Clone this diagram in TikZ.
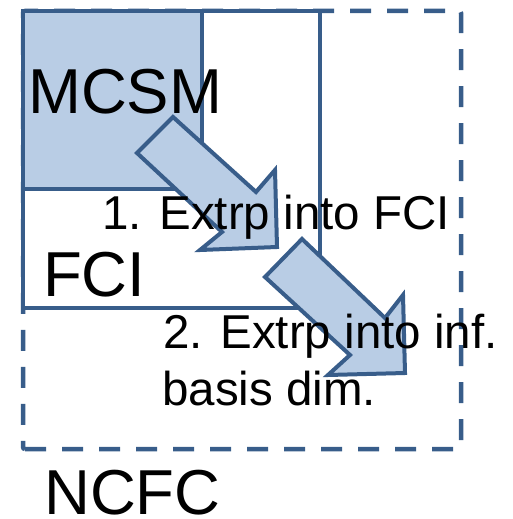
\documentclass[tikz,border=0pt]{standalone}
\usepackage{fontspec}
\setmainfont{Liberation Sans}
\definecolor{edgeblue}{RGB}{56,93,138}
\definecolor{fillblue}{RGB}{185,205,229}
\tikzset{
  boxline/.style={draw=edgeblue, line width=4.5pt},
  dashbox/.style={draw=edgeblue, line width=4.5pt, dash pattern=on 21pt off 16pt},
  blockarrow/.style={draw=edgeblue, fill=fillblue, line width=4pt, line join=miter},
  bigtext/.style={anchor=base west, inner sep=0pt, font=\fontsize{63.5}{63.5}\selectfont},
  steptext/.style={anchor=base west, inner sep=0pt, font=\fontsize{47.5}{47.5}\selectfont}
}
\begin{document}
\begin{tikzpicture}[x=1pt, y=-1pt]
\useasboundingbox (0,0) rectangle (512,519);
% outer dashed box (NCFC)
\draw[dashbox, rounded corners=2pt] (23,449) -- (461,449) -- (461,11) -- (23,11) -- cycle;
% FCI box
\draw[boxline, fill=white] (23,11) rectangle (320,308);
% MCSM box
\draw[boxline, fill=fillblue] (23,11) rectangle (202,189);
% arrow 1
\draw[blockarrow] (173,117) -- (256,192) -- (275,170) -- (277,247) -- (200,250) -- (222,232) -- (137,153) -- cycle;
% arrow 2
\draw[blockarrow] (302,239) -- (385,318) -- (403,295) -- (405,373) -- (328,375) -- (350,355) -- (265,277) -- cycle;
% labels
\node[bigtext] (mcsm) at (28,113) {MCSM};
\node[bigtext] (fci) at (43,296) {FCI};
\node[bigtext] (ncfc) at (44,514) {NCFC};
\node[steptext] (s1) at (102,229) {1. Extrp into FCI};
\node[steptext] (s2a) at (163,348) {2. Extrp into inf.};
\node[steptext] (s2b) at (162,405) {basis dim.};
\end{tikzpicture}
\end{document}
